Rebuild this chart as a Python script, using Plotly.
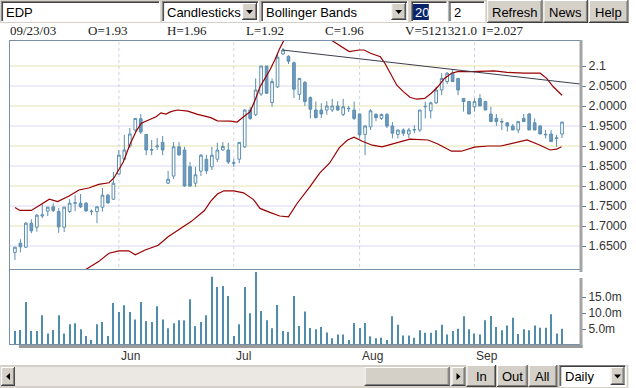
import plotly.graph_objects as go
import pandas as pd

# ---------------- data ----------------
DATES = [d.strftime("%Y-%m-%d") for d in pd.bdate_range("2003-05-06", "2003-09-23")]

OPEN = [1.634,1.657,1.647,1.707,1.697,1.725,1.737,1.748,1.736,1.697,
        1.736,1.757,1.757,1.757,1.737,1.736,1.747,1.777,1.767,1.830,
        1.867,1.900,1.940,1.968,1.929,1.891,1.898,1.909,1.807,1.825,
        1.898,1.890,1.848,1.807,1.837,1.867,1.848,1.867,1.890,1.890,
        1.857,1.867,1.898,1.990,1.978,2.030,2.100,2.009,2.048,2.130,
        2.124,2.108,2.029,2.059,2.021,1.990,1.990,1.990,1.990,2.000,
        1.979,1.993,1.990,1.980,1.929,1.948,1.979,1.969,1.979,1.950,
        1.929,1.940,1.930,1.940,1.940,1.998,1.988,2.008,2.040,2.061,
        2.082,2.069,2.019,2.011,1.998,2.019,2.011,1.980,1.969,1.961,
        1.958,1.950,1.940,1.969,1.980,1.958,1.950,1.928,1.930,1.919,
        1.930]
HIGH = [1.648,1.667,1.710,1.717,1.730,1.755,1.748,1.757,1.745,1.748,
        1.767,1.777,1.780,1.760,1.741,1.750,1.795,1.780,1.835,1.890,
        1.928,1.945,1.970,1.980,1.930,1.915,1.920,1.925,1.838,1.910,
        1.910,1.898,1.860,1.848,1.880,1.878,1.898,1.908,1.910,1.908,
        1.868,1.910,1.992,1.998,2.069,2.100,2.100,2.069,2.132,2.145,
        2.127,2.111,2.069,2.062,2.024,2.011,2.007,2.012,2.018,2.012,
        2.018,2.000,2.011,1.981,1.952,1.992,1.982,1.981,1.982,1.960,
        1.941,1.944,1.945,1.952,1.990,2.011,2.011,2.048,2.082,2.085,
        2.092,2.070,2.020,2.012,2.019,2.030,2.013,1.998,1.980,1.969,
        1.960,1.955,1.961,1.980,1.982,1.969,1.952,1.940,1.940,1.928,
        1.960]
LOW = [1.615,1.634,1.645,1.682,1.686,1.720,1.725,1.735,1.683,1.685,
       1.733,1.737,1.745,1.735,1.727,1.707,1.736,1.755,1.765,1.828,
       1.865,1.895,1.935,1.930,1.877,1.877,1.890,1.877,1.805,1.817,
       1.875,1.798,1.798,1.798,1.825,1.830,1.840,1.860,1.888,1.855,
       1.848,1.857,1.895,1.965,1.975,2.025,2.030,1.998,2.045,2.128,
       2.105,2.020,2.015,2.000,1.969,1.969,1.970,1.978,1.985,1.988,
       1.975,1.985,1.965,1.919,1.877,1.940,1.962,1.965,1.945,1.919,
       1.919,1.925,1.919,1.932,1.935,1.969,1.969,2.005,2.027,2.055,
       2.061,2.027,1.986,1.980,1.986,2.000,1.990,1.961,1.950,1.940,
       1.936,1.940,1.932,1.960,1.940,1.940,1.930,1.919,1.911,1.898,
       1.920]
CLOSE = [1.647,1.648,1.707,1.688,1.727,1.728,1.747,1.739,1.698,1.747,
         1.757,1.758,1.748,1.738,1.736,1.748,1.777,1.758,1.807,1.877,
         1.890,1.930,1.969,1.935,1.890,1.890,1.900,1.890,1.817,1.898,
         1.878,1.800,1.800,1.828,1.877,1.838,1.877,1.890,1.899,1.860,
         1.858,1.909,1.990,1.969,2.040,2.100,2.032,2.061,2.122,2.140,
         2.112,2.042,2.069,2.011,1.992,1.971,1.980,2.000,2.000,1.990,
         1.998,1.994,1.969,1.928,1.950,1.988,1.971,1.979,1.950,1.932,
         1.940,1.932,1.940,1.941,1.990,1.999,2.008,2.040,2.069,2.082,
         2.061,2.040,2.011,1.980,2.011,2.000,1.990,1.961,1.961,1.960,
         1.950,1.940,1.961,1.961,1.940,1.940,1.930,1.929,1.911,1.920,
         1.960]
VOLUME_M = [4.4,4.7,13.4,4.4,4.4,9.3,3.6,4.7,9.3,3.6,
            6.5,6.8,4.9,2.8,1.6,6.5,7.2,2.8,13.1,10.3,
            12.4,10.3,8.0,13.4,7.5,7.2,12.1,8.0,5.2,6.8,
            7.7,7.7,14.3,5.9,7.2,9.3,21.3,18.1,18.4,15.3,
            2.8,6.5,18.1,9.9,22.8,10.6,7.7,5.2,12.5,4.4,
            4.1,15.3,5.9,10.5,5.3,4.9,5.6,3.9,2.1,3.3,
            3.3,1.6,6.9,5.3,6.9,2.7,2.1,2.3,1.6,9.0,
            6.3,3.0,3.0,2.3,4.6,3.8,3.8,4.6,6.3,3.3,
            4.4,5.1,9.0,4.9,3.6,3.3,7.7,9.1,5.6,4.6,
            6.1,8.5,3.4,4.9,4.6,6.1,5.4,5.4,9.6,3.6,
            5.1]

UPPER_IDX = [0, 0.9, 3.0, 5.1, 6.3, 7.8, 9.9, 11.7, 13.5, 15.3, 17.2, 18.1, 19.0, 19.8,
             21.0, 22.2, 23.1, 24.6, 25.8, 26.7, 27.6, 28.5, 29.7, 31.6, 33.4, 35.8, 37.0,
             39.4, 40.6, 41.8, 43.0, 43.9, 44.8, 45.7, 46.6, 47.5, 48.4, 49.2, 51.0, 53.5,
             56.0, 57.8, 59.3, 61.1, 62.9, 63.8, 65.0, 66.8, 67.7, 68.9, 69.8, 71.0, 72.2,
             73.4, 74.9, 76.1, 77.3, 78.5, 79.8, 80.9, 83.4, 87.6, 90.0, 93.0, 96.0, 97.2,
             98.4, 100.0]
UPPER = [1.746, 1.739, 1.739, 1.758, 1.767, 1.761, 1.775, 1.790, 1.795, 1.804, 1.808, 1.820,
         1.840, 1.860, 1.903, 1.938, 1.957, 1.965, 1.973, 1.983, 1.980, 1.986, 1.990, 1.987,
         1.979, 1.971, 1.963, 1.962, 1.960, 1.973, 1.986, 2.015, 2.048, 2.069, 2.090, 2.115,
         2.144, 2.165, 2.190, 2.200, 2.185, 2.165, 2.152, 2.136, 2.140, 2.140, 2.132, 2.123,
         2.105, 2.075, 2.052, 2.036, 2.022, 2.017, 2.019, 2.032, 2.048, 2.069, 2.082, 2.086,
         2.086, 2.088, 2.084, 2.082, 2.082, 2.069, 2.048, 2.027]

LOWER_IDX = [0, 5.4, 6.9, 9.0, 11.2, 12.8, 15.3, 17.2, 19.0, 20.8, 22.0, 23.8, 26.2, 28.0,
             29.8, 32.2, 34.6, 35.8, 37.0, 38.2, 40.0, 41.8, 43.6, 44.8, 46.6, 48.4, 50.0,
             51.5, 53.9, 55.7, 57.5, 59.3, 60.8, 62.0, 63.5, 65.3, 67.1, 68.9, 70.7, 72.2,
             75.5, 77.3, 79.8, 81.6, 84.0, 86.4, 88.8, 92.4, 93.6, 96.0, 97.8, 99.0, 99.9]
LOWER = [1.586, 1.586, 1.583, 1.580, 1.578, 1.590, 1.611, 1.632, 1.638, 1.638, 1.628, 1.640,
         1.652, 1.673, 1.690, 1.711, 1.738, 1.762, 1.780, 1.788, 1.788, 1.783, 1.766, 1.744,
         1.734, 1.725, 1.723, 1.755, 1.798, 1.832, 1.857, 1.896, 1.915, 1.922, 1.912, 1.902,
         1.898, 1.905, 1.911, 1.917, 1.915, 1.905, 1.887, 1.887, 1.897, 1.900, 1.900, 1.911,
         1.915, 1.902, 1.890, 1.892, 1.898]

TREND_IDX = [48.9, 103.3]
TREND = [2.140, 2.055]

PRICE_TICKS = [1.65, 1.70, 1.75, 1.80, 1.85, 1.90, 1.95, 2.00, 2.05, 2.10]
PRICE_TICKTEXT = ["1.6500", "1.7000", "1.7500", "1.8000", "1.8500", "1.9000",
                  "1.9500", "2.0000", "2.0500", "2.1"]
VOL_TICKS = [5, 10, 15]
VOL_TICKTEXT = ["5.0m", "10.0m", "15.0m"]
MONTH_NAMES = {6: "Jun", 7: "Jul", 8: "Aug", 9: "Sep"}
HEADER = ["09/23/03", "O=1.93", "H=1.96", "L=1.92", "C=1.96", "V=5121321.0", "I=2.027"]

# ---------------- geometry helpers ----------------
W, H = 636, 388
ML, MR, MT, MB = 9, 49, 40, 43
PW, PH = W - ML - MR, H - MT - MB
BOT = H - MB


def px(x):
    return (x - ML) / PW


def py(y):
    return (BOT - y) / PH


SANS = "Liberation Sans, Arial, sans-serif"
SERIF = "Liberation Serif, Times New Roman, serif"
GRAY = "#d4d0c8"
shapes, annos = [], []


def rect(x0, y0, x1, y1, fill, line=None, lw=1, layer="above"):
    shapes.append(dict(type="rect", xref="paper", yref="paper",
                       x0=px(x0), x1=px(x1), y0=py(y1), y1=py(y0),
                       fillcolor=fill, layer=layer,
                       line=dict(color=line if line else fill, width=lw if line else 0)))


def seg(x0, y0, x1, y1, color, w=1, layer="above"):
    shapes.append(dict(type="line", xref="paper", yref="paper",
                       x0=px(x0), x1=px(x1), y0=py(y0), y1=py(y1),
                       line=dict(color=color, width=w), layer=layer))


def text(x, y, s, size=13, color="black", family=SANS, anchor="left"):
    annos.append(dict(xref="paper", yref="paper", x=px(x), y=py(y), text=s,
                      showarrow=False, xanchor=anchor, yanchor="middle",
                      font=dict(size=size, color=color, family=family)))


def tri(cx, cy, direction="down", w=7, h=4):
    if direction == "down":
        pts = [(cx - w / 2, cy - h / 2), (cx + w / 2, cy - h / 2), (cx, cy + h / 2)]
    elif direction == "left":
        pts = [(cx + h / 2, cy - w / 2), (cx + h / 2, cy + w / 2), (cx - h / 2, cy)]
    else:
        pts = [(cx - h / 2, cy - w / 2), (cx - h / 2, cy + w / 2), (cx + h / 2, cy)]
    path = "M " + " L ".join(f"{px(a):.5f},{py(b):.5f}" for a, b in pts) + " Z"
    shapes.append(dict(type="path", xref="paper", yref="paper", path=path,
                       fillcolor="black", line=dict(color="black", width=0), layer="above"))


def button(x0, y0, x1, y1, label=None, size=13):
    rect(x0, y0, x1, y1, GRAY)
    seg(x0, y0 + 0.5, x1, y0 + 0.5, "white")
    seg(x0 + 0.5, y0, x0 + 0.5, y1, "white")
    seg(x0, y1 - 0.5, x1, y1 - 0.5, "#404040")
    seg(x1 - 0.5, y0, x1 - 0.5, y1, "#404040")
    seg(x0 + 1, y1 - 1.5, x1 - 1, y1 - 1.5, "#808080")
    seg(x1 - 1.5, y0 + 1, x1 - 1.5, y1 - 1, "#808080")
    if label:
        text((x0 + x1) / 2, (y0 + y1) / 2 + 0.5, label, size, "black", SANS, "center")


def field(x0, y0, x1, y1, fill="white"):
    rect(x0, y0, x1, y1, fill)
    seg(x0, y0 + 0.5, x1, y0 + 0.5, "#808080")
    seg(x0 + 0.5, y0, x0 + 0.5, y1, "#808080")
    seg(x0 + 1, y0 + 1.5, x1 - 1, y0 + 1.5, "#404040")
    seg(x0 + 1.5, y0 + 1, x0 + 1.5, y1 - 1, "#404040")
    seg(x0, y1 - 0.5, x1, y1 - 0.5, "white")
    seg(x1 - 0.5, y0, x1 - 0.5, y1, "white")


# ---------------- toolbar ----------------
rect(0, 0, W, 23, GRAY)
field(1, 1, 162, 22)
text(4, 12, "EDP", 13)
field(164, 1, 262, 22)
text(167, 12, "Candlesticks", 13)
button(245, 3, 260, 20)
tri(252.5, 12)
field(264, 1, 413, 22)
text(267, 12, "Bollinger Bands", 13)
button(396, 3, 411, 20)
tri(403.5, 12)
field(416, 1, 453, 22)
rect(418, 4, 434, 20, "#0a246a")
text(418, 12, "20", 13, "white")
field(454, 1, 491, 22)
text(457, 12, "2", 13)
button(493, 0, 549, 23, "Refresh")
button(550, 0, 595, 23, "News")
button(596, 0, 636, 23, "Help")

# header row
HEADER_X = [9, 88, 168, 248, 328, 409, 487]
for hx, s in zip(HEADER_X, HEADER):
    text(hx - 1, 31, s, 13, "#202020", SERIF)

# ---------------- bottom bar ----------------
rect(0, 365, W, H, GRAY)
rect(1, 367, 471, 386, "#ebe8e3")
button(1, 367, 15, 386)
tri(8, 376.5, "left", w=7, h=4)
button(457, 367, 471, 386)
tri(464, 376.5, "right", w=7, h=4)
button(369, 367, 455, 386)
button(472, 365, 502, 387, "In")
button(503, 365, 534, 387, "Out")
button(535, 365, 564, 387, "All")
field(566, 365, 634, 387)
text(570, 376.5, "Daily", 13)
button(618, 367, 632, 385)
tri(625, 376.5)

# ---------------- panels, grid, borders ----------------
GRID_COLORS = ["#d8d8f4", "#e6e2ae"]
for k, v in enumerate(PRICE_TICKS):
    shapes.append(dict(type="line", xref="paper", yref="y", x0=0, x1=1, y0=v, y1=v,
                       line=dict(color=GRID_COLORS[k % 2], width=1), layer="below"))

month_idx = []
for i, d in enumerate(DATES):
    m = int(d[5:7])
    if m in MONTH_NAMES and (i == 0 or int(DATES[i - 1][5:7]) != m):
        month_idx.append((i, MONTH_NAMES[m]))
for i, name in month_idx:
    shapes.append(dict(type="line", xref="x", yref="paper", x0=i, x1=i, y0=0, y1=1,
                       line=dict(color="#cfd0e6", width=1, dash="dot"), layer="below"))
    annos.append(dict(xref="x", yref="paper", x=i, y=py(356), text=name, showarrow=False,
                      xanchor="left", yanchor="middle", xshift=0,
                      font=dict(size=12, color="#333333", family=SANS)))

BORDER = "#7590a8"
seg(9, 40.5, 587, 40.5, BORDER)
seg(9.5, 40, 9.5, 345, BORDER)
seg(9, 269.5, 587, 269.5, BORDER)
seg(9, 344.5, 587, 344.5, BORDER)
rect(586.5, 40, 589.5, 272, "#a4a4a4")
rect(586.5, 278, 589.5, 348, "#a4a4a4")
rect(19, 345, 589.5, 348, "#9a9a9a")

# ---------------- traces ----------------
idx = list(range(len(DATES)))
CANDLE = "#5b8fb0"
BAND = "#9a0000"
fig = go.Figure()
fig.add_trace(go.Scatter(x=UPPER_IDX, y=UPPER, mode="lines", yaxis="y",
                         line=dict(color=BAND, width=1.2), hoverinfo="skip"))
fig.add_trace(go.Scatter(x=LOWER_IDX, y=LOWER, mode="lines", yaxis="y",
                         line=dict(color=BAND, width=1.2), hoverinfo="skip"))
fig.add_trace(go.Candlestick(
    x=idx, open=OPEN, high=HIGH, low=LOW, close=CLOSE, yaxis="y",
    increasing=dict(line=dict(color=CANDLE, width=1), fillcolor="white"),
    decreasing=dict(line=dict(color=CANDLE, width=1), fillcolor="#7099c0"),
    hoverinfo="skip"))
fig.add_trace(go.Scatter(x=TREND_IDX, y=TREND, mode="lines", yaxis="y",
                         line=dict(color="#3c3c4c", width=1), hoverinfo="skip"))
fig.add_trace(go.Bar(x=idx, y=VOLUME_M, width=0.2, yaxis="y2",
                     marker=dict(color="#4f8dab", line=dict(width=0)), hoverinfo="skip"))

PRICE_TOP, PRICE_BOT = 2.165, 1.57
fig.update_layout(
    width=W, height=H,
    margin=dict(l=ML, r=MR, t=MT, b=MB),
    paper_bgcolor="white", plot_bgcolor="white",
    showlegend=False, hovermode=False, boxgap=0.3,
    xaxis=dict(domain=[0, 1], anchor="y2", range=[(ML - 15) / 5.538, (ML + PW - 15) / 5.538],
               showgrid=False, zeroline=False, showline=False, showticklabels=False,
               ticks="", rangeslider=dict(visible=False), fixedrange=True),
    yaxis=dict(domain=[py(278), 1], anchor="x", side="right", range=[PRICE_BOT, PRICE_TOP],
               tickvals=PRICE_TICKS, ticktext=PRICE_TICKTEXT, ticks="outside", ticklen=5,
               tickcolor="#5f7fa0", showgrid=False, zeroline=False, showline=False,
               tickfont=dict(size=12.5, color="#333333", family=SANS), fixedrange=True),
    yaxis2=dict(domain=[0, py(269)], anchor="x", side="right", range=[0, (345 - 269) / 3.2],
                tickvals=VOL_TICKS, ticktext=VOL_TICKTEXT, ticks="outside", ticklen=5,
                tickcolor="#5f7fa0", showgrid=False, zeroline=False, showline=False,
                tickfont=dict(size=12, color="#333333", family=SANS), fixedrange=True),
    shapes=shapes, annotations=annos,
)

fig.write_html("out.html", config={"displayModeBar": False},
               post_script="document.body.style.margin='0';document.body.style.overflow='hidden';")
